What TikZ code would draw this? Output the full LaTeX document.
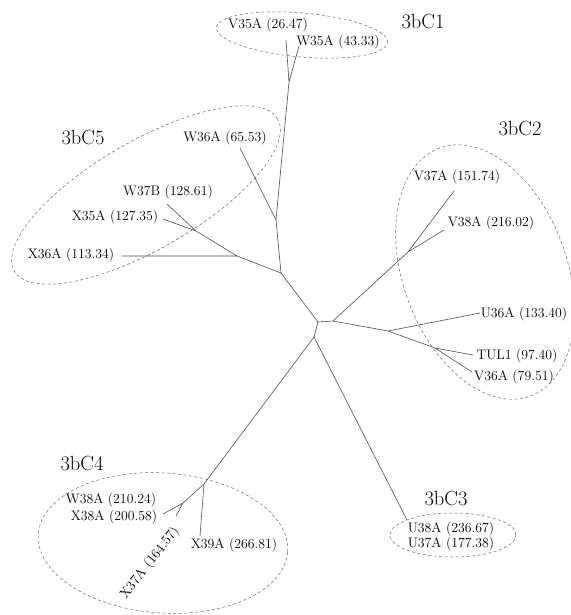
\documentclass[tikz,border=0pt]{standalone}
\usetikzlibrary{calc}
\begin{document}
\begin{tikzpicture}[x=1pt,y=-1pt,
  branch/.style={draw=black!70, line width=0.6pt},
  cluster/.style={draw=black!60, line width=0.5pt, dash pattern=on 3pt off 2.5pt},
  leaf/.style={inner sep=0pt, font=\fontsize{13.8}{16}\selectfont},
  ctitle/.style={inner sep=0pt, font=\fontsize{20.5}{24}\selectfont}]
\useasboundingbox (0,0) rectangle (570,615);
% junctions
\coordinate (J0) at (318,322);
\coordinate (J1) at (289,82);
\coordinate (J2) at (276,220);
\coordinate (J3) at (281,273);
\coordinate (J4) at (237,256);
\coordinate (J5) at (196,231);
\coordinate (J6) at (333,321);
\coordinate (J7) at (408,252);
\coordinate (J8) at (388,331);
\coordinate (J9) at (435,348);
\coordinate (J10) at (314,337);
\coordinate (J11) at (204,484);
\coordinate (J12) at (183,503);
% leaf ends
\coordinate (eV35A) at (286,40);
\coordinate (eW35A) at (299,46);
\coordinate (eW36A) at (240,148);
\coordinate (eW37B) at (167,204);
\coordinate (eX35A) at (163,219);
\coordinate (eX36A) at (122,256);
\coordinate (eV37A) at (454,191);
\coordinate (eV38A) at (444,230);
\coordinate (eU36A) at (480,313);
\coordinate (eTUL1) at (473,355);
\coordinate (eV36A) at (472,372);
\coordinate (eU38A) at (407,520);
\coordinate (eX39A) at (200,536);
\coordinate (eX38A) at (163,514);
\coordinate (eX37A) at (176,516);
% cluster centres
\coordinate (c1) at (302,35);
\coordinate (c2) at (485,272);
\coordinate (c3) at (453,535);
\coordinate (c4) at (163,543);
\coordinate (c5) at (146,195);
% clusters
\draw[cluster, rotate around={-5:(c1)}] (c1) ellipse [x radius=86pt, y radius=22pt];
\draw[cluster, rotate around={20:(c2)}] (c2) ellipse [x radius=82pt, y radius=132pt];
\draw[cluster] (c3) ellipse [x radius=63pt, y radius=22pt];
\draw[cluster, rotate around={-4:(c4)}] (c4) ellipse [x radius=125pt, y radius=70pt];
\draw[cluster, rotate around={30:(c5)}] (c5) ellipse [x radius=152pt, y radius=54pt];
% tree
\draw[branch] (J0) -- (J3) (J0) -- (J6) (J0) -- (J10);
\draw[branch] (J3) -- (J2) -- (J1) (J1) -- (eV35A) (J1) -- (eW35A);
\draw[branch] (J2) -- (eW36A);
\draw[branch] (J3) -- (J4) -- (eX36A) (J4) -- (J5) -- (eW37B) (J5) -- (eX35A);
\draw[branch] (J6) -- (J7) -- (eV37A) (J7) -- (eV38A);
\draw[branch] (J6) -- (J8) -- (eU36A) (J8) -- (J9) -- (eTUL1) (J9) -- (eV36A);
\draw[branch] (J10) -- (eU38A);
\draw[branch] (J10) -- (J11) -- (eX39A) (J11) -- (J12) -- (eX38A) (J12) -- (eX37A);
% labels
\node[leaf] (lV35A) at (268,25) {V35A (26.47)};
\node[leaf] (lW35A) at (338,42) {W35A (43.33)};
\node[leaf] (lW36A) at (225,138) {W36A (65.53)};
\node[leaf] (lW37B) at (168,192) {W37B (128.61)};
\node[leaf] (lX35A) at (115,217) {X35A (127.35)};
\node[leaf] (lX36A) at (71,255) {X36A (113.34)};
\node[leaf] (lV37A) at (457,177) {V37A (151.74)};
\node[leaf] (lV38A) at (491,223) {V38A (216.02)};
\node[leaf] (lU36A) at (524,314) {U36A (133.40)};
\node[leaf] (lTUL1) at (517,356) {TUL1 (97.40)};
\node[leaf] (lV36A) at (514,377) {V36A (79.51)};
\node[leaf] (lU38A) at (451,529) {U38A (236.67)};
\node[leaf] (lU37A) at (451,544) {U37A (177.38)};
\node[leaf] (lW38A) at (111,500) {W38A (210.24)};
\node[leaf] (lX38A) at (114,517) {X38A (200.58)};
\node[leaf] (lX39A) at (234,545) {X39A (266.81)};
\node[leaf, rotate=52] (lX37A) at (150,563) {X37A (164.57)};
% cluster titles
\node[ctitle] (t1) at (423,22) {3bC1};
\node[ctitle] (t2) at (520,128) {3bC2};
\node[ctitle] (t3) at (446,498) {3bC3};
\node[ctitle] (t4) at (82,463) {3bC4};
\node[ctitle] (t5) at (83,137) {3bC5};
\end{tikzpicture}
\end{document}
